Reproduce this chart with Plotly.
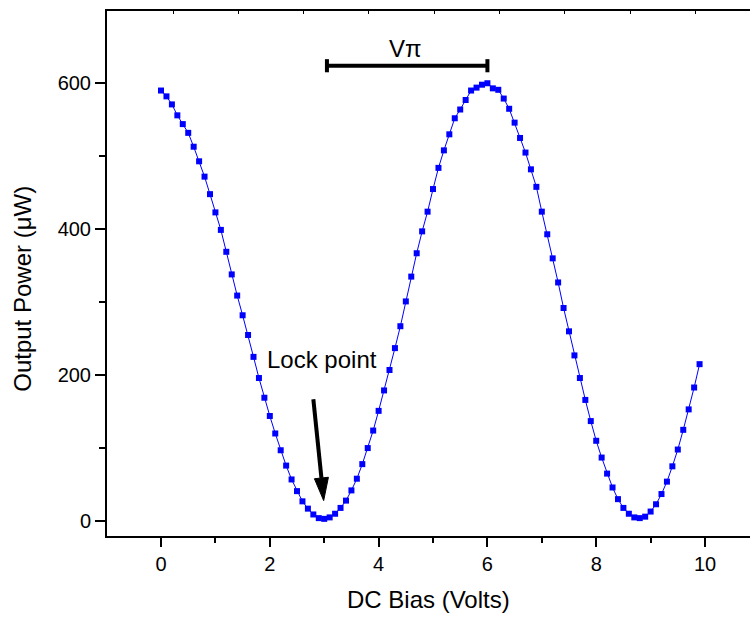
import plotly.graph_objects as go

# ---- data ----
bias_v = [0.0, 0.1, 0.2, 0.3, 0.4, 0.5, 0.6, 0.7, 0.8, 0.9,
          1.0, 1.1, 1.2, 1.3, 1.4, 1.5, 1.6, 1.7, 1.8, 1.9,
          2.0, 2.1, 2.2, 2.3, 2.4, 2.5, 2.6, 2.7, 2.8, 2.9,
          3.0, 3.1, 3.2, 3.3, 3.4, 3.5, 3.6, 3.7, 3.8, 3.9,
          4.0, 4.1, 4.2, 4.3, 4.4, 4.5, 4.6, 4.7, 4.8, 4.9,
          5.0, 5.1, 5.2, 5.3, 5.4, 5.5, 5.6, 5.7, 5.8, 5.9,
          6.0, 6.1, 6.2, 6.3, 6.4, 6.5, 6.6, 6.7, 6.8, 6.9,
          7.0, 7.1, 7.2, 7.3, 7.4, 7.5, 7.6, 7.7, 7.8, 7.9,
          8.0, 8.1, 8.2, 8.3, 8.4, 8.5, 8.6, 8.7, 8.8, 8.9,
          9.0, 9.1, 9.2, 9.3, 9.4, 9.5, 9.6, 9.7, 9.8, 9.9]
power_uw = [590, 582, 571, 556, 544, 532, 513, 493, 472, 448,
            423, 399, 369, 338, 309, 282, 255, 225, 196, 169,
            144, 120, 97, 76, 57, 41, 27, 17, 9, 4,
            3, 5, 10, 18, 28, 42, 58, 78, 100, 124,
            151, 179, 207, 237, 267, 301, 335, 367, 397, 424,
            455, 484, 508, 530, 552, 564, 577, 590, 594, 598,
            600, 593, 591, 579, 565, 546, 525, 505, 482, 458,
            424, 393, 360, 327, 292, 260, 227, 196, 166, 137,
            110, 87, 65, 46, 30, 18, 10, 5, 4, 6,
            13, 23, 37, 54, 75, 98, 125, 153, 183, 215]

x_ticks = [0, 2, 4, 6, 8, 10]
y_ticks = [0, 200, 400, 600]

# annotation anchors (data units)
vpi_start, vpi_end, vpi_level = 3.05, 6.0, 624
arrow_tail = (2.80, 167)
arrow_base = (2.949, 59)
arrow_head = [(2.99, 28), (3.077, 60), (2.82, 58)]

FONT = "Arial, Liberation Sans, sans-serif"
BLUE = "#0000FF"

fig = go.Figure()
fig.add_trace(go.Scatter(
    x=bias_v, y=power_uw, mode="lines+markers",
    line=dict(color=BLUE, width=1),
    marker=dict(symbol="square", size=6, color=BLUE),
    showlegend=False, hoverinfo="x+y"))

# invisible trace to carry the top axis
fig.add_trace(go.Scatter(x=[0], y=[-1000], xaxis="x2", mode="markers",
                         marker=dict(opacity=0), showlegend=False, hoverinfo="skip"))

fig.update_layout(
    width=750, height=618,
    margin=dict(l=107, r=0, t=11, b=82),
    plot_bgcolor="white", paper_bgcolor="white",
    font=dict(family=FONT, size=20, color="black"),
    xaxis=dict(range=[-0.993, 10.827], tickvals=x_ticks, ticktext=[str(v) for v in x_ticks],
               showgrid=False, zeroline=False, showline=True, linecolor="black", linewidth=2,
               ticks="outside", ticklen=9, tickwidth=2, tickcolor="black",
               minor=dict(tickvals=[-1, 1, 3, 5, 7, 9], ticks="outside", ticklen=5, tickwidth=2,
                          tickcolor="black"),
               tickfont=dict(size=20, family=FONT)),
    xaxis2=dict(overlaying="x", side="top", range=[-1.011, 8.836], dtick=1, tick0=0,
                showgrid=False, zeroline=False, showline=True, linecolor="black", linewidth=2,
                ticks="inside", ticklen=3, tickwidth=1, tickcolor="black", showticklabels=False),
    yaxis=dict(range=[-20.5, 699], tickvals=y_ticks, ticktext=[str(v) for v in y_ticks],
               showgrid=False, zeroline=False, showline=True, linecolor="black", linewidth=2,
               ticks="outside", ticklen=10, tickwidth=2, tickcolor="black",
               minor=dict(tickvals=[100, 300, 500], ticks="outside", ticklen=6, tickwidth=2,
                          tickcolor="black"),
               tickfont=dict(size=20, family=FONT)),
)

# Vpi bar
fig.add_shape(type="line", x0=vpi_start, x1=vpi_end, y0=vpi_level, y1=vpi_level,
              line=dict(color="black", width=4))
for xe in (vpi_start, vpi_end):
    fig.add_shape(type="line", x0=xe, x1=xe, y0=vpi_level - 9, y1=vpi_level + 9,
                  line=dict(color="black", width=4))

# Lock-point arrow
fig.add_shape(type="line", x0=arrow_tail[0], y0=arrow_tail[1], x1=arrow_base[0], y1=arrow_base[1],
              line=dict(color="black", width=4))
p = arrow_head
fig.add_shape(type="path",
              path=f"M {p[0][0]},{p[0][1]} L {p[1][0]},{p[1][1]} L {p[2][0]},{p[2][1]} Z",
              fillcolor="black", line=dict(color="black", width=1))

CM = dict(xanchor="center", yanchor="middle", showarrow=False)
fig.add_annotation(x=2.96, y=222, text="Lock point",
                   font=dict(size=24, family=FONT, color="black"), **CM)
fig.add_annotation(x=4.49, y=647, text="V\u03c0",
                   font=dict(size=24, family=FONT, color="black"), **CM)

# axis titles
fig.add_annotation(xref="paper", yref="paper", x=0.4995, y=-0.12, text="DC Bias (Volts)",
                   font=dict(size=24, family=FONT, color="black"), **CM)
fig.add_annotation(xref="paper", yref="paper", x=-0.131, y=0.4705, text="Output Power (\u03bcW)",
                   textangle=-90, font=dict(size=24, family=FONT, color="black"), **CM)

fig.write_html("out.html")
